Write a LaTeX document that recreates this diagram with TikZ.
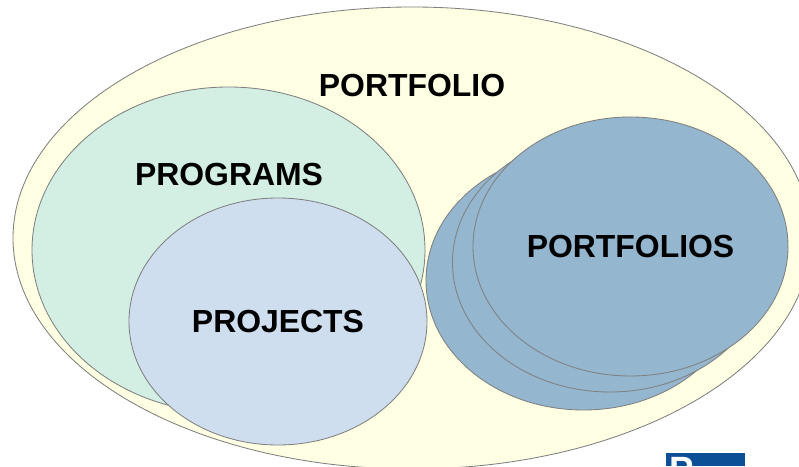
\documentclass[tikz,border=0pt]{standalone}
\usepackage{fontspec}
\setmainfont{Liberation Sans}
\definecolor{portfolioyellow}{HTML}{FFFFE3}
\definecolor{programgreen}{HTML}{D3EFE3}
\definecolor{projectblue}{HTML}{CFDEEF}
\definecolor{subblue}{HTML}{94B6CF}
\definecolor{logoblue}{HTML}{0B4F96}
\tikzset{
  blob/.style={draw=gray,line width=0.6pt},
  bigtext/.style={font=\fontsize{22.7}{26}\selectfont\bfseries,inner sep=0pt},
}

\begin{document}
\begin{tikzpicture}[x=0.025cm,y=0.025cm]
            \useasboundingbox (0,0) rectangle (799,466);
            \clip (0,0) rectangle (799,466);
            \fill[white] (0,0) rectangle (799,466);

            % outer ellipse
            \draw[blob,fill=portfolioyellow] (412,228) ellipse (399 and 231);

            % left group
            \draw[blob,fill=programgreen] (228.5,216) ellipse (196.5 and 163);
            \draw[blob,fill=projectblue] (278,144.5) ellipse (149 and 123.5);

            % stacked ellipses
            \draw[blob,fill=subblue] (583.5,185.5) ellipse (157.5 and 129.5);
            \draw[blob,fill=subblue] (610,203.5) ellipse (157.5 and 129.5);
            \draw[blob,fill=subblue] (630.5,219.5) ellipse (157.5 and 129.5);

            % logo corner
            \fill[logoblue] (666,0) rectangle (745,13);
            \node[anchor=north west,text=white,inner sep=0pt,font=\fontsize{26}{28}\selectfont\bfseries] (logo) at (669,8.5) {P};

            % labels
            \node[bigtext] (portfolio) at (412,380) {PORTFOLIO};
            \node[bigtext] (programs) at (229,291) {PROGRAMS};
            \node[bigtext] (projects) at (278,144) {PROJECTS};
            \node[bigtext] (portfolios) at (630.5,219) {PORTFOLIOS};
        \end{tikzpicture}
\end{document}
